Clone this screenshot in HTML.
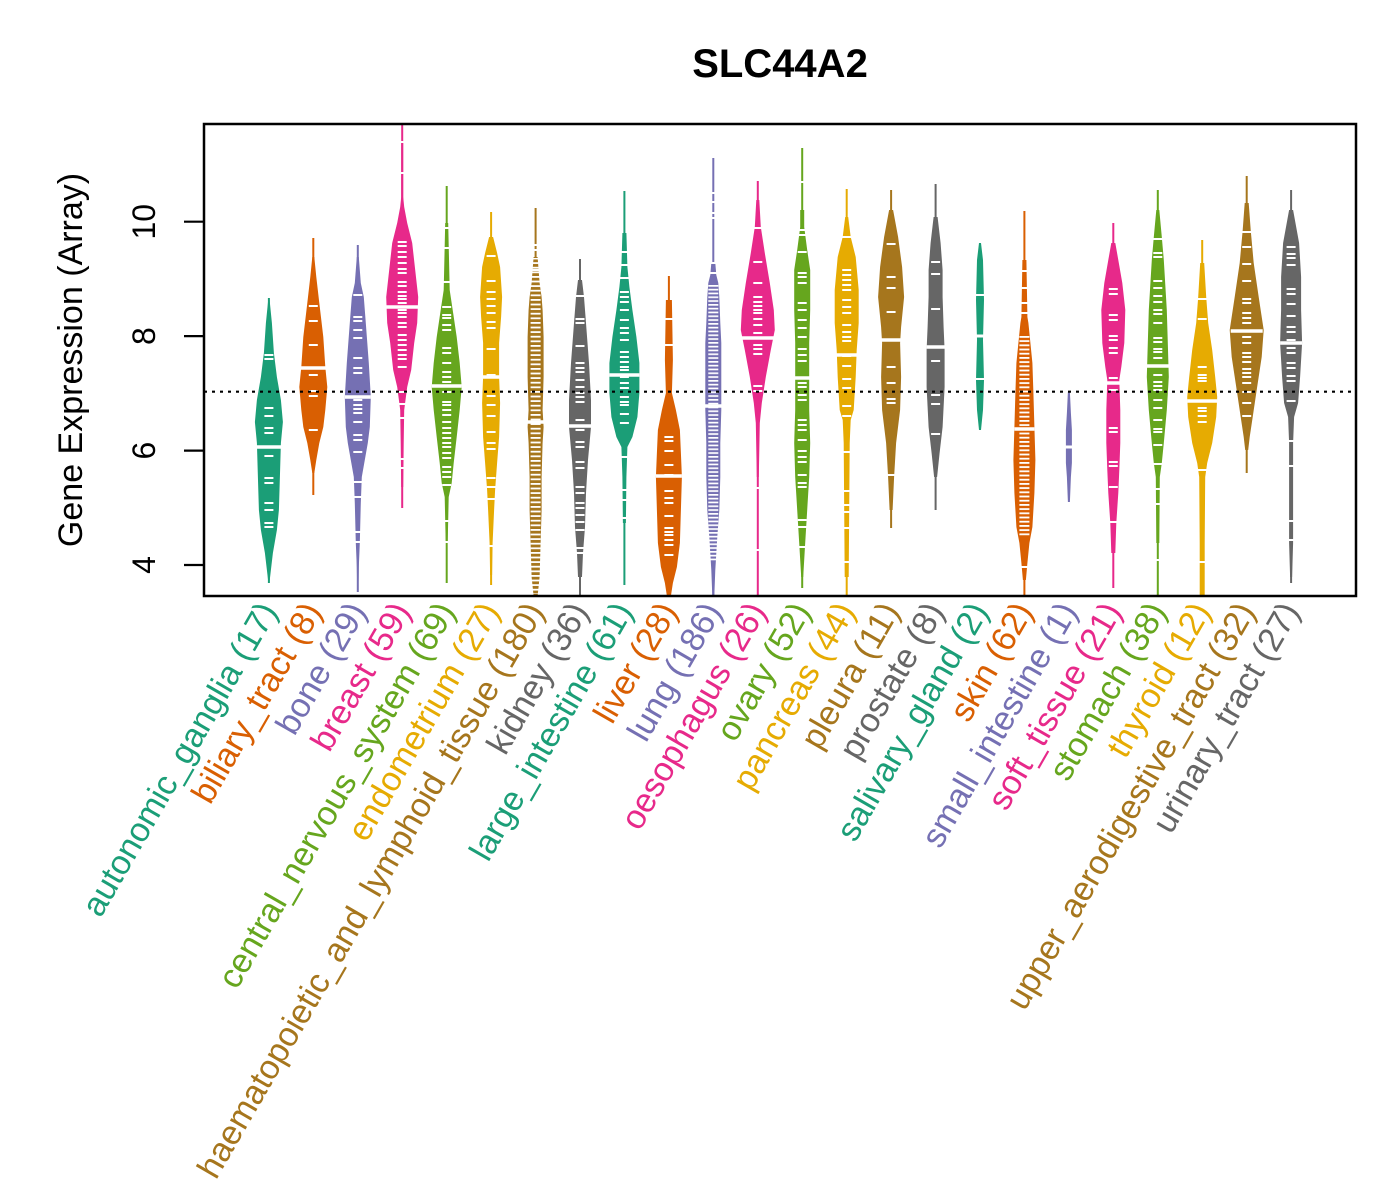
<!DOCTYPE html>
<html><head><meta charset="utf-8"><style>
html,body{margin:0;padding:0;background:#fff;}
svg{display:block;font-family:"Liberation Sans",Arial,sans-serif;}
</style></head><body>
<svg width="1400" height="1200" viewBox="0 0 1400 1200" xmlns="http://www.w3.org/2000/svg">
<defs>
<clipPath id="pc"><rect x="204" y="124" width="1152" height="472"/></clipPath>
<pattern id="st1" x="0" y="0" width="20" height="4.6" patternUnits="userSpaceOnUse"><rect x="0" y="0" width="20" height="1.8" fill="#fff"/></pattern>
<pattern id="st2" x="0" y="0" width="20" height="3.8" patternUnits="userSpaceOnUse"><rect x="0" y="0" width="20" height="1.7" fill="#fff"/></pattern>
<pattern id="st3" x="0" y="0" width="20" height="4.2" patternUnits="userSpaceOnUse"><rect x="0" y="0" width="20" height="1.8" fill="#fff"/></pattern>
</defs>
<rect width="1400" height="1200" fill="#fff"/>
<text x="780" y="77" font-size="40" font-weight="bold" text-anchor="middle">SLC44A2</text>

<g clip-path="url(#pc)">
<g transform="translate(268.9,0)" fill="#1B9E77">
<line x1="0" y1="298" x2="0" y2="583" stroke="#1B9E77" stroke-width="2"/>
<polygon points="0.5,298 3,323 5,353 8,377 12,400 14,422 12,443 11,477 10,510 8,530 4,553 2,570 0.5,583 -0.5,583 -2,570 -4,553 -8,530 -10,510 -11,477 -12,443 -14,422 -12,400 -8,377 -5,353 -3,323 -0.5,298"/>
<path stroke="#fff" stroke-width="2" d="M-4.5 355h9M-4.5 359h9M-4.5 408h9M-4.5 416h9M-4.5 428h9M-4.5 433h9M-4.5 456h9M-4.5 478h9M-4.5 483h9M-4.5 503h9M-4.5 510h9M-4.5 523h9M-4.5 527h9"/>
<path stroke="#fff" stroke-width="3.5" d="M-13 447h26"/>
</g>
<g transform="translate(313.3,0)" fill="#D95F02">
<line x1="0" y1="238" x2="0" y2="495" stroke="#D95F02" stroke-width="2"/>
<polygon points="1,257 3,277 6,303 10,337 12,367 14,387 12,410 10,427 6,443 3,460 1,473 -1,473 -3,460 -6,443 -10,427 -12,410 -14,387 -12,367 -10,337 -6,303 -3,277 -1,257"/>
<path stroke="#fff" stroke-width="2" d="M-4.5 306h9M-4.5 321h9M-4.5 345h9M-4.5 375h9M-4.5 391h9M-4.5 396h9M-4.5 430h9"/>
<path stroke="#fff" stroke-width="3.5" d="M-13 368h26"/>
</g>
<g transform="translate(357.8,0)" fill="#7570B3">
<line x1="0" y1="245" x2="0" y2="592" stroke="#7570B3" stroke-width="2"/>
<polygon points="1,257 3,283 6,297 8,323 11,363 13,397 12,427 10,443 7,460 4,477 3,503 2,543 1,567 0.5,592 -0.5,592 -1,567 -2,543 -3,503 -4,477 -7,460 -10,443 -12,427 -13,397 -11,363 -8,323 -6,297 -3,283 -1,257"/>
<path stroke="#fff" stroke-width="2" d="M-4.5 295h9M-4.5 317h9M-4.5 321h9M-4.5 330h9M-4.5 338h9M-4.5 358h9M-4.5 368h9M-4.5 373h9M-4.5 400h9M-4.5 405h9M-4.5 409h9M-4.5 413h9M-4.5 422h9M-4.5 435h9M-4.5 440h9M-4.5 452h9M-4.5 482h9M-4.5 497h9M-4.5 532h9M-4.5 542h9"/>
<path stroke="#fff" stroke-width="3.5" d="M-13 397h26"/>
</g>
<g transform="translate(402.2,0)" fill="#E7298A">
<line x1="0" y1="124" x2="0" y2="508" stroke="#E7298A" stroke-width="2"/>
<polygon points="1,143 1,197 2,207 5,223 10,243 13,270 16,297 15,323 12,343 9,370 5,387 2,410 1.5,443 1,487 -1,487 -1.5,443 -2,410 -5,387 -9,370 -12,343 -15,323 -16,297 -13,270 -10,243 -5,223 -2,207 -1,197 -1,143"/>
<path stroke="#fff" stroke-width="2" d="M-4.5 142h9M-4.5 173h9M-4.5 242h9M-4.5 246h9M-4.5 252h9M-4.5 257h9M-4.5 263h9M-4.5 269h9M-4.5 273h9M-4.5 282h9M-4.5 286h9M-4.5 292h9M-4.5 296h9M-4.5 299h9M-4.5 303h9M-4.5 310h9M-4.5 313h9M-4.5 317h9M-4.5 323h9M-4.5 327h9M-4.5 335h9M-4.5 340h9M-4.5 345h9M-4.5 350h9M-4.5 355h9M-4.5 359h9M-4.5 367h9M-4.5 392h9M-4.5 404h9M-4.5 418h9M-4.5 459h9M-4.5 468h9"/>
<path stroke="#fff" stroke-width="3.5" d="M-16 307h32"/>
</g>
<g transform="translate(446.7,0)" fill="#66A61E">
<line x1="0" y1="186" x2="0" y2="583" stroke="#66A61E" stroke-width="2"/>
<polygon points="1.5,223 3,290 6,310 10,337 13,363 15,387 13,410 10,437 7,463 5,483 2,497 1,543 -1,543 -2,497 -5,483 -7,463 -10,437 -13,410 -15,387 -13,363 -10,337 -6,310 -3,290 -1.5,223"/>
<path stroke="#fff" stroke-width="2" d="M-4.5 228h9M-4.5 248h9M-4.5 282h9M-4.5 307h9M-4.5 315h9M-4.5 318h9M-4.5 325h9M-4.5 330h9M-4.5 348h9M-4.5 353h9M-4.5 363h9M-4.5 372h9M-4.5 377h9M-4.5 382h9M-4.5 392h9M-4.5 402h9M-4.5 405h9M-4.5 410h9M-4.5 415h9M-4.5 422h9M-4.5 428h9M-4.5 433h9M-4.5 438h9M-4.5 443h9M-4.5 447h9M-4.5 453h9M-4.5 458h9M-4.5 467h9M-4.5 472h9M-4.5 477h9M-4.5 485h9M-4.5 521h9M-4.5 542h9"/>
<path stroke="#fff" stroke-width="3.5" d="M-15 386h30"/>
</g>
<g transform="translate(491.1,0)" fill="#E6AB02">
<line x1="0" y1="212" x2="0" y2="585" stroke="#E6AB02" stroke-width="2"/>
<polygon points="2,237 6,253 9,267 11,297 10,317 8,343 8,377 9,403 8,437 6,463 4,490 3,510 1.5,543 1,575 -1,575 -1.5,543 -3,510 -4,490 -6,463 -8,437 -9,403 -8,377 -8,343 -10,317 -11,297 -9,267 -6,253 -2,237"/>
<path stroke="#fff" stroke-width="2" d="M-4.5 256h9M-4.5 281h9M-4.5 292h9M-4.5 299h9M-4.5 306h9M-4.5 313h9M-4.5 322h9M-4.5 328h9M-4.5 349h9M-4.5 375h9M-4.5 396h9M-4.5 405h9M-4.5 416h9M-4.5 432h9M-4.5 443h9M-4.5 449h9M-4.5 478h9M-4.5 487h9M-4.5 499h9M-4.5 546h9"/>
<path stroke="#fff" stroke-width="3.5" d="M-11 377h22"/>
</g>
<g transform="translate(535.6,0)" fill="#A6761D">
<line x1="0" y1="208" x2="0" y2="596" stroke="#A6761D" stroke-width="2"/>
<polygon points="2,257 4,283 6,297 7,310 8,337 8,377 7,410 8,427 7,443 6,477 6,510 5,543 4,577 2,596 -2,596 -4,577 -5,543 -6,510 -6,477 -7,443 -8,427 -7,410 -8,377 -8,337 -7,310 -6,297 -4,283 -2,257"/>
<rect x="-5" y="258" width="10" height="336" fill="url(#st1)"/>
<path stroke="#fff" stroke-width="2" d="M-4.5 245h9M-4.5 250h9M-4.5 270h9"/>
<path stroke="#fff" stroke-width="3.5" d="M-9 422h18"/>
</g>
<g transform="translate(580,0)" fill="#666666">
<line x1="0" y1="259" x2="0" y2="595" stroke="#666666" stroke-width="2"/>
<polygon points="2,280 4,297 6,323 9,363 11,400 11,427 8,460 6,493 5,527 3,553 2,577 -2,577 -3,553 -5,527 -6,493 -8,460 -11,427 -11,400 -9,363 -6,323 -4,297 -2,280"/>
<path stroke="#fff" stroke-width="2" d="M-4.5 296h9M-4.5 319h9M-4.5 323h9M-4.5 346h9M-4.5 363h9M-4.5 368h9M-4.5 372h9M-4.5 380h9M-4.5 387h9M-4.5 393h9M-4.5 397h9M-4.5 402h9M-4.5 420h9M-4.5 430h9M-4.5 442h9M-4.5 447h9M-4.5 462h9M-4.5 468h9M-4.5 487h9M-4.5 493h9M-4.5 503h9M-4.5 508h9M-4.5 515h9M-4.5 522h9M-4.5 530h9M-4.5 548h9M-4.5 553h9"/>
<path stroke="#fff" stroke-width="3.5" d="M-12 426h24"/>
</g>
<g transform="translate(624.4,0)" fill="#1B9E77">
<line x1="0" y1="191" x2="0" y2="585" stroke="#1B9E77" stroke-width="2"/>
<polygon points="2,233 3,267 5,287 8,310 12,337 15,363 15,393 13,417 8,437 3,447 2,477 1.5,523 -1.5,523 -2,477 -3,447 -8,437 -13,417 -15,393 -15,363 -12,337 -8,310 -5,287 -3,267 -2,233"/>
<path stroke="#fff" stroke-width="2" d="M-4.5 252h9M-4.5 265h9M-4.5 278h9M-4.5 292h9M-4.5 297h9M-4.5 302h9M-4.5 310h9M-4.5 320h9M-4.5 328h9M-4.5 333h9M-4.5 340h9M-4.5 352h9M-4.5 357h9M-4.5 362h9M-4.5 367h9M-4.5 370h9M-4.5 377h9M-4.5 383h9M-4.5 388h9M-4.5 397h9M-4.5 402h9M-4.5 405h9M-4.5 414h9M-4.5 423h9M-4.5 457h9M-4.5 490h9M-4.5 500h9M-4.5 518h9"/>
<path stroke="#fff" stroke-width="3.5" d="M-15 375h30"/>
</g>
<g transform="translate(668.9,0)" fill="#D95F02">
<line x1="0" y1="276" x2="0" y2="596" stroke="#D95F02" stroke-width="2"/>
<polygon points="3,300 4,360 3,393 7,410 11,430 12,453 13,477 12,510 11,543 8,567 4,583 2,596 -2,596 -4,583 -8,567 -11,543 -12,510 -13,477 -12,453 -11,430 -7,410 -3,393 -4,360 -3,300"/>
<path stroke="#fff" stroke-width="2" d="M-4.5 319h9M-4.5 345h9M-4.5 437h9M-4.5 441h9M-4.5 451h9M-4.5 465h9M-4.5 475h9M-4.5 491h9M-4.5 498h9M-4.5 503h9M-4.5 516h9M-4.5 528h9M-4.5 532h9M-4.5 535h9M-4.5 540h9M-4.5 545h9M-4.5 555h9"/>
<path stroke="#fff" stroke-width="3.5" d="M-13 476h26"/>
</g>
<g transform="translate(713.3,0)" fill="#7570B3">
<line x1="0" y1="158" x2="0" y2="596" stroke="#7570B3" stroke-width="2"/>
<polygon points="2,263 3,275 5,283 6,297 7,323 8,343 8,410 7,443 7,477 6,510 4,537 2,570 1,596 -1,596 -2,570 -4,537 -6,510 -7,477 -7,443 -8,410 -8,343 -7,323 -6,297 -5,283 -3,275 -2,263"/>
<rect x="-5" y="284" width="10" height="278" fill="url(#st2)"/>
<path stroke="#fff" stroke-width="2" d="M-4.5 193h9M-4.5 202h9M-4.5 213h9M-4.5 218h9M-4.5 263h9M-4.5 273h9"/>
<path stroke="#fff" stroke-width="3.5" d="M-9 406h18"/>
</g>
<g transform="translate(757.8,0)" fill="#E7298A">
<line x1="0" y1="181" x2="0" y2="596" stroke="#E7298A" stroke-width="2"/>
<polygon points="1.5,200 3,227 7,253 12,283 16,310 17,330 13,350 8,377 4,403 2,423 1,477 -1,477 -2,423 -4,403 -8,377 -13,350 -17,330 -16,310 -12,283 -7,253 -3,227 -1.5,200"/>
<path stroke="#fff" stroke-width="2" d="M-4.5 228h9M-4.5 262h9M-4.5 283h9M-4.5 297h9M-4.5 302h9M-4.5 306h9M-4.5 310h9M-4.5 313h9M-4.5 319h9M-4.5 325h9M-4.5 333h9M-4.5 345h9M-4.5 349h9M-4.5 354h9M-4.5 386h9M-4.5 391h9M-4.5 488h9M-4.5 550h9"/>
<path stroke="#fff" stroke-width="3.5" d="M-17 338h34"/>
</g>
<g transform="translate(802.2,0)" fill="#66A61E">
<line x1="0" y1="148" x2="0" y2="588" stroke="#66A61E" stroke-width="2"/>
<polygon points="2,210 2,227 5,250 8,270 8,310 7,343 7,377 7,410 8,443 7,477 5,510 3,543 1,577 -1,577 -3,543 -5,510 -7,477 -8,443 -7,410 -7,377 -7,343 -8,310 -8,270 -5,250 -2,227 -2,210"/>
<path stroke="#fff" stroke-width="2" d="M-4.5 182h9M-4.5 230h9M-4.5 235h9M-4.5 252h9M-4.5 273h9M-4.5 277h9M-4.5 283h9M-4.5 303h9M-4.5 310h9M-4.5 320h9M-4.5 328h9M-4.5 337h9M-4.5 349h9M-4.5 355h9M-4.5 361h9M-4.5 383h9M-4.5 387h9M-4.5 395h9M-4.5 400h9M-4.5 420h9M-4.5 425h9M-4.5 430h9M-4.5 440h9M-4.5 451h9M-4.5 457h9M-4.5 462h9M-4.5 475h9M-4.5 483h9M-4.5 487h9M-4.5 520h9M-4.5 527h9M-4.5 547h9"/>
<path stroke="#fff" stroke-width="3.5" d="M-8 378h16"/>
</g>
<g transform="translate(846.7,0)" fill="#E6AB02">
<line x1="0" y1="189" x2="0" y2="596" stroke="#E6AB02" stroke-width="2"/>
<polygon points="1.5,217 4,237 9,257 12,290 12,323 10,350 9,377 7,410 4,420 3,443 2,577 -2,577 -3,443 -4,420 -7,410 -9,377 -10,350 -12,323 -12,290 -9,257 -4,237 -1.5,217"/>
<path stroke="#fff" stroke-width="2" d="M-4.5 237h9M-4.5 270h9M-4.5 275h9M-4.5 280h9M-4.5 285h9M-4.5 290h9M-4.5 300h9M-4.5 307h9M-4.5 313h9M-4.5 325h9M-4.5 332h9M-4.5 337h9M-4.5 341h9M-4.5 356h9M-4.5 366h9M-4.5 379h9M-4.5 388h9M-4.5 406h9M-4.5 416h9M-4.5 452h9M-4.5 491h9M-4.5 505h9M-4.5 512h9M-4.5 528h9M-4.5 562h9"/>
<path stroke="#fff" stroke-width="3.5" d="M-12 355h24"/>
</g>
<g transform="translate(891.1,0)" fill="#A6761D">
<line x1="0" y1="190" x2="0" y2="528" stroke="#A6761D" stroke-width="2"/>
<polygon points="2,210 7,237 11,267 13,297 10,327 9,343 10,377 9,410 5,443 3,477 1.5,510 -1.5,510 -3,477 -5,443 -9,410 -10,377 -9,343 -10,327 -13,297 -11,267 -7,237 -2,210"/>
<path stroke="#fff" stroke-width="2" d="M-4.5 244h9M-4.5 277h9M-4.5 288h9M-4.5 312h9M-4.5 367h9M-4.5 383h9M-4.5 399h9M-4.5 403h9M-4.5 475h9"/>
<path stroke="#fff" stroke-width="3.5" d="M-12 340h24"/>
</g>
<g transform="translate(935.6,0)" fill="#666666">
<line x1="0" y1="184" x2="0" y2="510" stroke="#666666" stroke-width="2"/>
<polygon points="2,217 5,243 7,270 7,297 8,327 9,350 9,387 7,427 4,453 1.5,477 -1.5,477 -4,453 -7,427 -9,387 -9,350 -8,327 -7,297 -7,270 -5,243 -2,217"/>
<path stroke="#fff" stroke-width="2" d="M-4.5 262h9M-4.5 274h9M-4.5 309h9M-4.5 361h9M-4.5 395h9M-4.5 404h9M-4.5 434h9"/>
<path stroke="#fff" stroke-width="3.5" d="M-9 347h18"/>
</g>
<g transform="translate(980,0)" fill="#1B9E77">
<polygon points="1,243 3,260 4,300 3,340 4,380 3,410 1,430 -1,430 -3,410 -4,380 -3,340 -4,300 -3,260 -1,243"/>
<path stroke="#fff" stroke-width="2" d="M-4.5 295h9M-4.5 379h9"/>
<path stroke="#fff" stroke-width="3" d="M-6 336h12"/>
</g>
<g transform="translate(1024.4,0)" fill="#D95F02">
<line x1="0" y1="211" x2="0" y2="596" stroke="#D95F02" stroke-width="2"/>
<polygon points="2,260 3,317 4,323 6,343 8,363 9,393 10,427 11,460 10,493 8,527 5,543 3,563 1.5,580 -1.5,580 -3,563 -5,543 -8,527 -10,493 -11,460 -10,427 -9,393 -8,363 -6,343 -4,323 -3,317 -2,260"/>
<rect x="-5" y="334" width="10" height="203" fill="url(#st3)"/>
<path stroke="#fff" stroke-width="2" d="M-4.5 271h9M-4.5 288h9M-4.5 303h9M-4.5 313h9M-4.5 567h9"/>
<path stroke="#fff" stroke-width="3.5" d="M-10 429h20"/>
</g>
<g transform="translate(1068.9,0)" fill="#7570B3">
<polygon points="1,392 2,413 3,430 3,463 2,477 1,502 -1,502 -2,477 -3,463 -3,430 -2,413 -1,392"/>
<path stroke="#fff" stroke-width="3" d="M-8 447h16"/>
</g>
<g transform="translate(1113.3,0)" fill="#E7298A">
<line x1="0" y1="223" x2="0" y2="588" stroke="#E7298A" stroke-width="2"/>
<polygon points="2,243 5,260 9,283 12,310 11,343 8,367 6,380 7,410 7,443 6,470 5,493 3,523 2,553 -2,553 -3,523 -5,493 -6,470 -7,443 -7,410 -6,380 -8,367 -11,343 -12,310 -9,283 -5,260 -2,243"/>
<path stroke="#fff" stroke-width="2" d="M-4.5 289h9M-4.5 294h9M-4.5 315h9M-4.5 320h9M-4.5 336h9M-4.5 340h9M-4.5 348h9M-4.5 353h9M-4.5 378h9M-4.5 390h9M-4.5 428h9M-4.5 432h9M-4.5 462h9M-4.5 466h9M-4.5 487h9M-4.5 522h9"/>
<path stroke="#fff" stroke-width="3.5" d="M-11 383h22"/>
</g>
<g transform="translate(1157.8,0)" fill="#66A61E">
<line x1="0" y1="190" x2="0" y2="596" stroke="#66A61E" stroke-width="2"/>
<polygon points="1.5,210 4,237 6,260 9,310 10,343 11,377 9,410 6,443 4,463 2,477 1.5,543 -1.5,543 -2,477 -4,463 -6,443 -9,410 -11,377 -10,343 -9,310 -6,260 -4,237 -1.5,210"/>
<path stroke="#fff" stroke-width="2" d="M-4.5 239h9M-4.5 253h9M-4.5 257h9M-4.5 281h9M-4.5 288h9M-4.5 296h9M-4.5 302h9M-4.5 310h9M-4.5 314h9M-4.5 323h9M-4.5 338h9M-4.5 342h9M-4.5 349h9M-4.5 352h9M-4.5 358h9M-4.5 375h9M-4.5 382h9M-4.5 386h9M-4.5 390h9M-4.5 400h9M-4.5 408h9M-4.5 420h9M-4.5 429h9M-4.5 432h9M-4.5 445h9M-4.5 464h9M-4.5 489h9M-4.5 504h9M-4.5 560h9"/>
<path stroke="#fff" stroke-width="3.5" d="M-11 366h22"/>
</g>
<g transform="translate(1202.2,0)" fill="#E6AB02">
<line x1="0" y1="240" x2="0" y2="596" stroke="#E6AB02" stroke-width="2"/>
<polygon points="2,263 4,297 6,323 10,350 13,377 15,397 14,417 10,443 5,463 3,477 2.5,543 2.5,596 -2.5,596 -2.5,543 -3,477 -5,463 -10,443 -14,417 -15,397 -13,377 -10,350 -6,323 -4,297 -2,263"/>
<path stroke="#fff" stroke-width="2" d="M-4.5 299h9M-4.5 319h9M-4.5 367h9M-4.5 375h9M-4.5 378h9M-4.5 381h9M-4.5 408h9M-4.5 411h9M-4.5 416h9M-4.5 422h9M-4.5 470h9M-4.5 562h9"/>
<path stroke="#fff" stroke-width="3.5" d="M-15 401h30"/>
</g>
<g transform="translate(1246.7,0)" fill="#A6761D">
<line x1="0" y1="176" x2="0" y2="473" stroke="#A6761D" stroke-width="2"/>
<polygon points="2,203 4,230 7,263 12,297 17,330 15,357 10,390 6,417 3,437 1.5,450 -1.5,450 -3,437 -6,417 -10,390 -15,357 -17,330 -12,297 -7,263 -4,230 -2,203"/>
<path stroke="#fff" stroke-width="2" d="M-4.5 232h9M-4.5 247h9M-4.5 264h9M-4.5 281h9M-4.5 299h9M-4.5 303h9M-4.5 313h9M-4.5 318h9M-4.5 323h9M-4.5 337h9M-4.5 343h9M-4.5 353h9M-4.5 357h9M-4.5 362h9M-4.5 369h9M-4.5 373h9M-4.5 377h9M-4.5 383h9M-4.5 392h9M-4.5 403h9M-4.5 416h9"/>
<path stroke="#fff" stroke-width="3.5" d="M-16 331h32"/>
</g>
<g transform="translate(1291.1,0)" fill="#666666">
<line x1="0" y1="190" x2="0" y2="583" stroke="#666666" stroke-width="2"/>
<polygon points="2,210 8,243 10,277 10,310 11,343 9,377 7,403 3,417 2,443 2,543 1,577 -1,577 -2,543 -2,443 -3,417 -7,403 -9,377 -11,343 -10,310 -10,277 -8,243 -2,210"/>
<path stroke="#fff" stroke-width="2" d="M-4.5 247h9M-4.5 254h9M-4.5 258h9M-4.5 265h9M-4.5 289h9M-4.5 294h9M-4.5 304h9M-4.5 316h9M-4.5 327h9M-4.5 332h9M-4.5 340h9M-4.5 348h9M-4.5 353h9M-4.5 363h9M-4.5 368h9M-4.5 376h9M-4.5 381h9M-4.5 401h9M-4.5 441h9M-4.5 466h9M-4.5 521h9M-4.5 540h9"/>
<path stroke="#fff" stroke-width="3.5" d="M-11 343h22"/>
</g>
<line x1="204" y1="391.7" x2="1356" y2="391.7" stroke="#000" stroke-width="2.2" stroke-dasharray="3 5"/>
</g>

<rect x="204" y="124" width="1152" height="472" fill="none" stroke="#000" stroke-width="2.5"/>
<path stroke="#000" stroke-width="2.2" d="M184 565H204M184 450.6H204M184 336.1H204M184 221.7H204"/>
<g font-size="32" text-anchor="middle">
<text transform="translate(155,565) rotate(-90)">4</text>
<text transform="translate(155,450.6) rotate(-90)">6</text>
<text transform="translate(155,336.1) rotate(-90)">8</text>
<text transform="translate(155,221.7) rotate(-90)">10</text>
</g>
<text transform="translate(82,360) rotate(-90)" font-size="34" text-anchor="middle">Gene Expression (Array)</text>

<g font-size="34" text-anchor="end">
<text transform="translate(278.2,611) rotate(-60)" fill="#1B9E77">autonomic_ganglia (17)</text>
<text transform="translate(322.6,611) rotate(-60)" fill="#D95F02">biliary_tract (8)</text>
<text transform="translate(367.1,611) rotate(-60)" fill="#7570B3">bone (29)</text>
<text transform="translate(411.5,611) rotate(-60)" fill="#E7298A">breast (59)</text>
<text transform="translate(456,611) rotate(-60)" fill="#66A61E">central_nervous_system (69)</text>
<text transform="translate(500.4,611) rotate(-60)" fill="#E6AB02">endometrium (27)</text>
<text transform="translate(544.9,611) rotate(-60)" fill="#A6761D">haematopoietic_and_lymphoid_tissue (180)</text>
<text transform="translate(589.3,611) rotate(-60)" fill="#666666">kidney (36)</text>
<text transform="translate(633.7,611) rotate(-60)" fill="#1B9E77">large_intestine (61)</text>
<text transform="translate(678.2,611) rotate(-60)" fill="#D95F02">liver (28)</text>
<text transform="translate(722.6,611) rotate(-60)" fill="#7570B3">lung (186)</text>
<text transform="translate(767.1,611) rotate(-60)" fill="#E7298A">oesophagus (26)</text>
<text transform="translate(811.5,611) rotate(-60)" fill="#66A61E">ovary (52)</text>
<text transform="translate(856,611) rotate(-60)" fill="#E6AB02">pancreas (44)</text>
<text transform="translate(900.4,611) rotate(-60)" fill="#A6761D">pleura (11)</text>
<text transform="translate(944.9,611) rotate(-60)" fill="#666666">prostate (8)</text>
<text transform="translate(989.3,611) rotate(-60)" fill="#1B9E77">salivary_gland (2)</text>
<text transform="translate(1033.7,611) rotate(-60)" fill="#D95F02">skin (62)</text>
<text transform="translate(1078.2,611) rotate(-60)" fill="#7570B3">small_intestine (1)</text>
<text transform="translate(1122.6,611) rotate(-60)" fill="#E7298A">soft_tissue (21)</text>
<text transform="translate(1167.1,611) rotate(-60)" fill="#66A61E">stomach (38)</text>
<text transform="translate(1211.5,611) rotate(-60)" fill="#E6AB02">thyroid (12)</text>
<text transform="translate(1256,611) rotate(-60)" fill="#A6761D">upper_aerodigestive_tract (32)</text>
<text transform="translate(1300.4,611) rotate(-60)" fill="#666666">urinary_tract (27)</text>
</g>
</svg>
</body></html>
